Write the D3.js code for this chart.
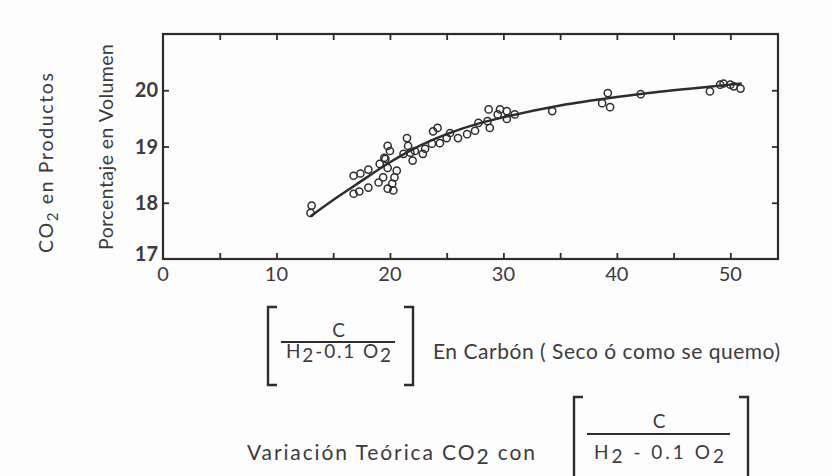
<!DOCTYPE html>
<html>
<head>
<meta charset="utf-8">
<script src="https://cdn.jsdelivr.net/npm/d3@7"></script>
<style>
  body { margin: 0; background: #fdfdfd; }
  svg text { font-family: Lato, "Open Sans", sans-serif; fill: #3e3a3d; }
</style>
</head>
<body>
<svg id="chart" width="832" height="476"></svg>
<script>
// measured samples (open circles)
const sampleX = [13.1, 13.0, 16.8, 17.4, 18.1, 16.8, 17.3, 18.1, 19.0, 19.1, 19.6, 19.8, 20.0, 19.8,
  20.2, 19.8, 20.6, 20.3, 21.2, 19.4, 21.6, 21.5, 22.2, 23.1, 23.7, 24.4, 25.0, 25.3, 26.0,
  26.8, 27.5, 27.8, 28.6, 28.8, 29.5, 29.7, 30.3, 30.3, 28.7, 31.0, 34.3, 38.7, 39.2, 39.4,
  42.1, 48.2, 49.1, 50.0, 50.3, 50.9, 49.4, 21.8, 22.0, 22.9, 23.8, 24.2, 20.4, 19.5];
const sampleY = [17.95, 17.82, 18.48, 18.52, 18.59, 18.16, 18.2, 18.27, 18.36, 18.69, 18.78, 19.01, 18.92, 18.62,
  18.34, 18.25, 18.57, 18.22, 18.87, 18.45, 19.01, 19.15, 18.92, 18.96, 19.05, 19.06, 19.15, 19.24, 19.15,
  19.22, 19.28, 19.42, 19.45, 19.33, 19.57, 19.66, 19.63, 19.49, 19.66, 19.57, 19.63, 19.77, 19.95, 19.7,
  19.93, 19.98, 20.1, 20.1, 20.07, 20.03, 20.12, 18.89, 18.75, 18.87, 19.27, 19.33, 18.45, 18.8];

// fitted curve
const curveX = [13, 15, 17, 20, 22, 25, 28, 30, 35, 40, 45, 50, 51];
const curveY = [17.76, 18.05, 18.32, 18.72, 18.95, 19.22, 19.42, 19.52, 19.73, 19.88, 20.0, 20.1, 20.12];

const xTickLabels = [0, 10, 20, 30, 40, 50];
const xTickMarks = [5, 10, 15, 20, 25, 30, 35, 40, 45, 50];
const yTickLabels = [17, 18, 19, 20];
const yTickMarks = [18, 19, 20];

const svg = d3.select("#chart");
const ink = "#2f2c2e";

const x = d3.scaleLinear().domain([0, 54.2]).range([163, 778]);
const y = d3.scaleLinear().domain([17, 21]).range([259, 34]);

// frame
svg.append("rect")
  .attr("x", x(0)).attr("y", y(21))
  .attr("width", x(54.2) - x(0)).attr("height", y(17) - y(21))
  .attr("fill", "none").attr("stroke", ink).attr("stroke-width", 2.2);

// inward ticks on the four sides
const axisBottom = d3.axisBottom(x).tickValues(xTickMarks).tickSize(-6).tickFormat("");
const axisTop = d3.axisTop(x).tickValues(xTickMarks).tickSize(-6).tickFormat("");
const axisLeft = d3.axisLeft(y).tickValues(yTickMarks).tickSize(-6).tickFormat("");
const axisRight = d3.axisRight(y).tickValues(yTickMarks).tickSize(-6).tickFormat("");

[[axisBottom, `translate(0,${y(17)})`], [axisTop, `translate(0,${y(21)})`],
 [axisLeft, `translate(${x(0)},0)`], [axisRight, `translate(${x(54.2)},0)`]].forEach(([ax, tr]) => {
  const g = svg.append("g").attr("transform", tr).call(ax);
  g.select(".domain").remove();
  g.selectAll("line").attr("stroke", ink).attr("stroke-width", 1.8);
});

// tick labels
svg.append("g").selectAll("text")
  .data(xTickLabels).enter().append("text")
  .attr("x", d => x(d)).attr("y", y(17) + 22)
  .attr("text-anchor", "middle")
  .style("font-size", "20px")
  .text(d => d);

svg.append("g").selectAll("text")
  .data(yTickLabels).enter().append("text")
  .attr("x", x(0) - 5).attr("y", d => y(d) + (d == 17 ? 2 : 7))
  .attr("text-anchor", "end")
  .style("font-size", "20px").style("font-weight", "bold")
  .text(d => d);

// axis titles (rotated)
svg.append("text")
  .attr("transform", "translate(113,147) rotate(-90)")
  .attr("text-anchor", "middle")
  .attr("textLength", 206).attr("lengthAdjust", "spacing")
  .style("font-size", "19.5px")
  .text("Porcentaje en Volumen");

const t2 = svg.append("text")
  .attr("transform", "translate(53,163) rotate(-90)")
  .attr("text-anchor", "middle")
  .attr("textLength", 180).attr("lengthAdjust", "spacing")
  .style("font-size", "19.5px");
t2.append("tspan").text("CO");
t2.append("tspan").attr("dy", 5).style("font-size", "15px").text("2");
t2.append("tspan").attr("dy", -5).text("  en  Productos");

// curve
const line = d3.line().x(d => x(d[0])).y(d => y(d[1])).curve(d3.curveMonotoneX);
svg.append("path")
  .datum(d3.zip(curveX, curveY))
  .attr("d", line)
  .attr("fill", "none").attr("stroke", ink).attr("stroke-width", 2.5);

// samples
svg.append("g").selectAll("circle")
  .data(d3.zip(sampleX, sampleY)).enter().append("circle")
  .attr("cx", d => x(d[0])).attr("cy", d => y(d[1]))
  .attr("r", 3.6)
  .attr("fill", "none").attr("stroke", ink).attr("stroke-width", 1.5);

// bracketed fraction helper
function bracketFraction(x0, x1, yTop, yBot, yBar, cY, hY, hLen, mid1) {
  const g = svg.append("g");
  g.append("path").attr("d", `M${x0 + 9},${yTop} H${x0} V${yBot} H${x0 + 9}`)
    .attr("fill", "none").attr("stroke", ink).attr("stroke-width", 2.4);
  g.append("path").attr("d", `M${x1 - 9},${yTop} H${x1} V${yBot} H${x1 - 9}`)
    .attr("fill", "none").attr("stroke", ink).attr("stroke-width", 2.4);
  g.append("line").attr("x1", x0 + 13).attr("x2", x1 - 18).attr("y1", yBar).attr("y2", yBar)
    .attr("stroke", ink).attr("stroke-width", 1.8);
  const mid = (x0 + x1) / 2 - 2;
  g.append("text").attr("x", mid).attr("y", cY).attr("text-anchor", "middle")
    .style("font-size", "19px").text("C");
  const h = g.append("text").attr("x", mid).attr("y", hY).attr("text-anchor", "middle")
    .attr("textLength", hLen).attr("lengthAdjust", "spacing")
    .style("font-size", "19px");
  h.append("tspan").text("H");
  h.append("tspan").attr("dy", 4).text("2");
  h.append("tspan").attr("dy", -4).text(mid1);
  h.append("tspan").attr("dy", 4).text("2");
}

bracketFraction(268, 413, 307, 385, 342, 337, 358, 105, "-0.1  O");
svg.append("text").attr("x", 433).attr("y", 359)
  .attr("textLength", 347).attr("lengthAdjust", "spacing")
  .style("font-size", "21px")
  .text("En Carbón ( Seco ó como se quemo)");

bracketFraction(574, 748, 397, 490, 434, 428, 459, 130, " - 0.1  O");
const v = svg.append("text").attr("x", 247).attr("y", 460)
  .attr("textLength", 288).attr("lengthAdjust", "spacing")
  .style("font-size", "21px");
v.append("tspan").text("Variación  Teórica  CO");
v.append("tspan").attr("dy", 4).text("2");
v.append("tspan").attr("dy", -4).text("  con");
</script>
</body>
</html>
